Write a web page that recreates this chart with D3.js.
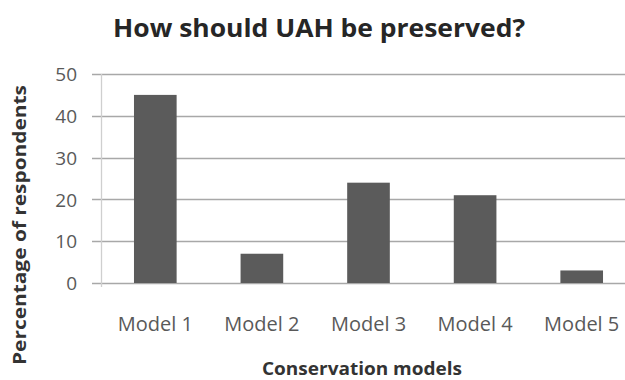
<!DOCTYPE html>
<html><head><meta charset="utf-8">
<script src="https://cdn.jsdelivr.net/npm/d3@7"></script>
<style>html,body{margin:0;padding:0;background:#fff;}svg{display:block;font-family:"Open Sans",sans-serif;}</style>
</head><body>
<script>
const categories = ["Model 1","Model 2","Model 3","Model 4","Model 5"];
const values = [45, 7, 24, 21, 3];
const yTicks = [0, 10, 20, 30, 40, 50];
const title = "How should UAH be preserved?";
const xTitle = "Conservation models";
const yTitle = "Percentage of respondents";

const W = 625, H = 380;
const svg = d3.select("body").append("svg").attr("width", W).attr("height", H);

const x = d3.scaleBand().domain(categories).range([102, 635]).paddingInner(0.6).paddingOuter(0.3);
const y = d3.scaleLinear().domain([0, 50]).range([283, 74]);

// gridlines
svg.append("g").selectAll("line").data(yTicks).join("line")
  .attr("x1", 92).attr("x2", W)
  .attr("y1", d => Math.round(y(d)) + 0.5).attr("y2", d => Math.round(y(d)) + 0.5)
  .attr("stroke", "#a8a8a8").attr("stroke-width", 1.3);

// y axis line
svg.append("line").attr("x1", 101.5).attr("x2", 101.5).attr("y1", y(50)).attr("y2", y(0) + 4)
  .attr("stroke", "#cfcfcf").attr("stroke-width", 1.3);

// y tick labels
const yAxis = d3.axisLeft(y).tickValues(yTicks).tickSize(0).tickPadding(0);
const gy = svg.append("g").attr("transform", "translate(77,0)").call(yAxis);
gy.select(".domain").remove();
gy.selectAll("text").attr("font-family", "Open Sans").attr("font-size", 19).attr("fill", "#595959").attr("dy", "0.35em");

// bars
svg.append("g").selectAll("rect").data(values).join("rect")
  .attr("x", (d, i) => x(categories[i]))
  .attr("width", x.bandwidth())
  .attr("y", d => y(d))
  .attr("height", d => y(0) - y(d))
  .attr("fill", "#5b5b5b");

// x axis labels
const xAxis = d3.axisBottom(x).tickSize(0).tickPadding(0);
const gx = svg.append("g").attr("transform", "translate(0,331)").call(xAxis);
gx.select(".domain").remove();
gx.selectAll("text").attr("font-family", "Open Sans").attr("font-size", 20).attr("fill", "#595959").attr("dy", 0);

// title
svg.append("text").attr("x", 319).attr("y", 37).attr("text-anchor", "middle")
  .attr("font-family", "Open Sans").attr("font-weight", "bold").attr("font-size", 25)
  .attr("fill", "#262626").attr("textLength", 412).attr("lengthAdjust", "spacingAndGlyphs").text(title);

// x title
svg.append("text").attr("x", 362).attr("y", 375).attr("text-anchor", "middle")
  .attr("font-family", "Open Sans").attr("font-weight", "bold").attr("font-size", 18)
  .attr("fill", "#333").attr("textLength", 200).attr("lengthAdjust", "spacingAndGlyphs").text(xTitle);

// y title
svg.append("text").attr("transform", "translate(26,225) rotate(-90)").attr("text-anchor", "middle")
  .attr("font-family", "Open Sans").attr("font-weight", "bold").attr("font-size", 17)
  .attr("fill", "#333").attr("textLength", 280).attr("lengthAdjust", "spacingAndGlyphs").text(yTitle);
</script>
</body></html>
